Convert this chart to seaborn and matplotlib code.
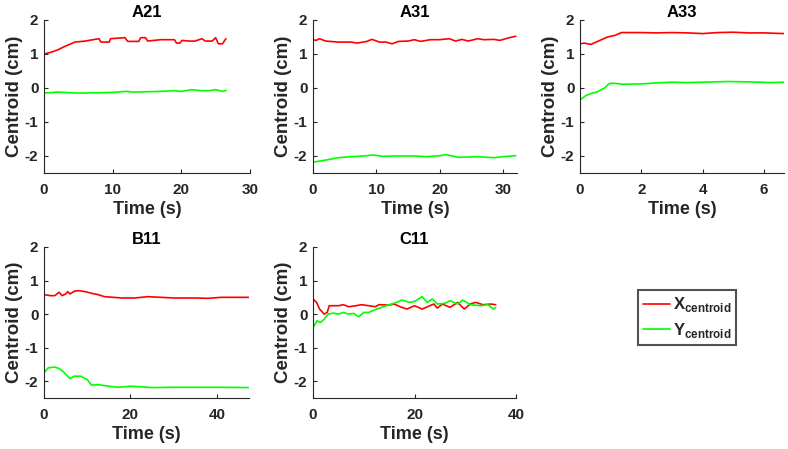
import numpy as np
import pandas as pd
import seaborn as sns
import matplotlib.pyplot as plt

# --- data (time in s, centroid in cm) ---
a21_t_x = [0, 1, 2, 3, 4.5, 6, 8, 8.3, 9.5, 9.7, 11.8, 12.2, 13.8, 14.1, 14.8, 15.1, 17, 19, 19.3, 19.8, 20.1, 21, 22, 23, 23.5, 24.5, 25, 25.4, 26, 26.5]
a21_x = [1.0, 1.05, 1.12, 1.22, 1.35, 1.38, 1.45, 1.35, 1.35, 1.45, 1.48, 1.37, 1.37, 1.48, 1.48, 1.38, 1.42, 1.42, 1.32, 1.32, 1.40, 1.38, 1.38, 1.45, 1.38, 1.38, 1.48, 1.30, 1.30, 1.45]
a21_t_y = [0, 2, 5, 8, 10, 12, 13, 15, 17, 19, 20, 21.5, 23, 24, 25, 26, 26.5]
a21_y = [-0.15, -0.12, -0.15, -0.14, -0.13, -0.10, -0.12, -0.11, -0.10, -0.08, -0.10, -0.05, -0.08, -0.08, -0.05, -0.10, -0.07]

a31_t_x = [0, 0.5, 1, 2, 4, 6, 7, 8.5, 9.3, 10.5, 11.5, 12.5, 13.5, 15, 16, 17, 18.5, 20, 21.5, 22.5, 23.5, 24.5, 26, 27, 28.5, 29.5, 31, 32]
a31_x = [1.42, 1.40, 1.45, 1.38, 1.35, 1.35, 1.32, 1.37, 1.43, 1.35, 1.35, 1.30, 1.37, 1.38, 1.42, 1.37, 1.42, 1.42, 1.45, 1.38, 1.43, 1.38, 1.45, 1.42, 1.43, 1.40, 1.48, 1.52]
a31_t_y = [0, 2, 4, 6, 8, 9.5, 11, 13, 16, 18, 20, 21, 23, 26, 28.5, 30, 32]
a31_y = [-2.18, -2.12, -2.05, -2.02, -2.00, -1.97, -2.01, -2.00, -2.00, -2.02, -1.99, -1.96, -2.04, -2.02, -2.05, -2.02, -1.99]

a33_t_x = [0, 0.15, 0.35, 0.6, 0.9, 1.15, 1.35, 2, 2.5, 3, 3.5, 4, 4.5, 5, 5.5, 6, 6.65]
a33_x = [1.30, 1.32, 1.28, 1.38, 1.50, 1.55, 1.63, 1.63, 1.62, 1.63, 1.62, 1.60, 1.63, 1.64, 1.62, 1.62, 1.60]
a33_t_y = [0, 0.2, 0.4, 0.55, 0.8, 0.95, 1.1, 1.4, 2, 2.5, 3, 3.5, 4, 4.8, 5.5, 6.2, 6.65]
a33_y = [-0.35, -0.22, -0.15, -0.12, 0.0, 0.13, 0.14, 0.11, 0.12, 0.15, 0.17, 0.16, 0.17, 0.19, 0.18, 0.16, 0.17]

b11_t_x = [0, 1.5, 2.5, 3.5, 4.2, 5, 5.5, 6, 7, 8, 9.5, 11, 12.5, 14, 16, 18, 21, 24, 27, 30, 35, 38, 41, 44, 47.4]
b11_x = [0.58, 0.55, 0.55, 0.65, 0.55, 0.60, 0.67, 0.60, 0.68, 0.70, 0.67, 0.62, 0.58, 0.52, 0.50, 0.48, 0.48, 0.52, 0.50, 0.48, 0.48, 0.47, 0.50, 0.50, 0.50]
b11_t_y = [0, 1, 2.5, 3.5, 4.5, 6, 7, 8.5, 10, 11, 12.5, 15, 17, 20, 23, 25, 30, 35, 40, 47.4]
b11_y = [-1.75, -1.60, -1.58, -1.62, -1.72, -1.92, -1.85, -1.85, -1.95, -2.12, -2.10, -2.15, -2.18, -2.15, -2.17, -2.19, -2.18, -2.18, -2.18, -2.19]

c11_t_x = [0, 0.7, 1.3, 2.2, 2.8, 3.2, 5, 6, 7, 8.5, 9.5, 11, 12.3, 13, 15, 16, 17.5, 18.5, 20, 21.5, 23, 23.8, 24.5, 25.5, 27, 28.5, 29.8, 31, 32, 33.5, 35, 36]
c11_x = [0.45, 0.35, 0.15, 0.0, 0.05, 0.25, 0.25, 0.28, 0.22, 0.25, 0.28, 0.25, 0.22, 0.28, 0.27, 0.30, 0.20, 0.15, 0.25, 0.15, 0.25, 0.30, 0.18, 0.30, 0.20, 0.35, 0.15, 0.30, 0.35, 0.28, 0.30, 0.28]
c11_t_y = [0, 0.8, 1.5, 2.2, 3, 4, 5, 6, 7, 8, 9, 10, 11, 12, 13.5, 15, 16.5, 17.5, 19, 20, 21.5, 22.5, 23.5, 24.5, 26, 27, 28.5, 29.5, 31, 33, 34.5, 35.5, 36]
c11_y = [-0.40, -0.20, -0.25, -0.15, 0.0, 0.03, 0.0, 0.05, 0.0, 0.02, -0.08, 0.05, 0.05, 0.12, 0.20, 0.28, 0.35, 0.42, 0.35, 0.38, 0.52, 0.35, 0.45, 0.30, 0.32, 0.40, 0.30, 0.42, 0.28, 0.25, 0.28, 0.15, 0.20]

panels = {
    "A21": (a21_t_x, a21_x, a21_t_y, a21_y, 30, [0, 10, 20, 30]),
    "A31": (a31_t_x, a31_x, a31_t_y, a31_y, 32.2, [0, 10, 20, 30]),
    "A33": (a33_t_x, a33_x, a33_t_y, a33_y, 6.65, [0, 2, 4, 6]),
    "B11": (b11_t_x, b11_x, b11_t_y, b11_y, 47.4, [0, 20, 40]),
    "C11": (c11_t_x, c11_x, c11_t_y, c11_y, 40, [0, 20, 40]),
}

series_labels = [r"$\mathbf{X}_{\mathbf{centroid}}$", r"$\mathbf{Y}_{\mathbf{centroid}}$"]
palette = {series_labels[0]: "#ff0000", series_labels[1]: "#00ff00"}

sns.set_style("ticks")
plt.rcParams["font.family"] = ["Liberation Sans", "DejaVu Sans"]
plt.rcParams["font.weight"] = "bold"
plt.rcParams["mathtext.fontset"] = "custom"
plt.rcParams["mathtext.rm"] = "Liberation Sans"
plt.rcParams["mathtext.bf"] = "Liberation Sans:bold"
plt.rcParams["xtick.direction"] = "in"
plt.rcParams["ytick.direction"] = "in"
plt.rcParams["axes.unicode_minus"] = False

dark = "#262626"
fig = plt.figure(figsize=(7.88, 4.49), dpi=100)

positions = {
    "A21": [0.0558, 0.6147, 0.2614, 0.3408],
    "A31": [0.3972, 0.6147, 0.2589, 0.3408],
    "A33": [0.7360, 0.6147, 0.2589, 0.3408],
    "B11": [0.0558, 0.1136, 0.2602, 0.3363],
    "C11": [0.3972, 0.1136, 0.2577, 0.3363],
}

for name, (tx, vx, ty, vy, xmax, xt) in panels.items():
    ax = fig.add_axes(positions[name])
    df = pd.concat([
        pd.DataFrame({"Time": tx, "Centroid": vx, "series": series_labels[0]}),
        pd.DataFrame({"Time": ty, "Centroid": vy, "series": series_labels[1]}),
    ])
    sns.lineplot(data=df, x="Time", y="Centroid", hue="series", palette=palette,
                 estimator=None, sort=False, legend=False, linewidth=1.2, ax=ax)
    ax.set_xlim(0, xmax)
    ax.set_ylim(-2.5, 2)
    ax.set_xticks(xt)
    ax.set_yticks([-2, -1, 0, 1, 2])
    ax.set_title(name, fontsize=12, fontweight="bold", color="black", pad=2)
    ax.set_xlabel("Time (s)", fontsize=13, fontweight="bold", color=dark, labelpad=3)
    ax.set_ylabel("Centroid (cm)", fontsize=13.5, fontweight="bold", color=dark, labelpad=1)
    ax.tick_params(labelsize=11, length=3, width=0.8, colors=dark)
    ax.tick_params(axis="x", pad=7)
    ax.tick_params(axis="y", pad=4)
    for lab in ax.get_xticklabels() + ax.get_yticklabels():
        lab.set_fontweight("bold")
    sns.despine(ax=ax)
    for sp in ("left", "bottom"):
        ax.spines[sp].set_color(dark)
        ax.spines[sp].set_linewidth(0.8)
    last_ax = ax

handles = last_ax.get_lines()[:2]
leg = fig.legend(handles, series_labels, loc="lower left", bbox_to_anchor=(0.8096, 0.2316),
                 borderaxespad=0, fontsize=12, frameon=True, fancybox=False,
                 handlelength=1.6, handletextpad=0.2, borderpad=0.3, labelspacing=0.4)
leg.get_frame().set_edgecolor(dark)
leg.get_frame().set_linewidth(1.5)

fig.savefig("out.png", dpi=100)
